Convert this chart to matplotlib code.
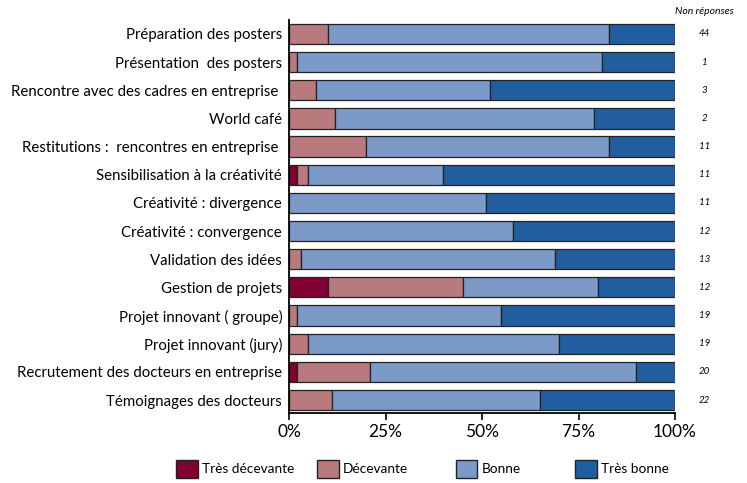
import numpy as np
import matplotlib.pyplot as plt
from matplotlib.patches import Patch

plt.rcParams['font.family'] = ['Lato', 'DejaVu Sans']

categories = [
    "Préparation des posters",
    "Présentation  des posters",
    "Rencontre avec des cadres en entreprise ",
    "World café",
    "Restitutions :  rencontres en entreprise ",
    "Sensibilisation à la créativité",
    "Créativité : divergence",
    "Créativité : convergence",
    "Validation des idées",
    "Gestion de projets",
    "Projet innovant ( groupe)",
    "Projet innovant (jury)",
    "Recrutement des docteurs en entreprise",
    "Témoignages des docteurs",
]
tres_decevante = [0, 0, 0, 0, 0, 2, 0, 0, 0, 10, 0, 0, 2, 0]
decevante = [10, 2, 7, 12, 20, 3, 0, 0, 3, 35, 2, 5, 19, 11]
bonne = [73, 79, 45, 67, 63, 35, 51, 58, 66, 35, 53, 65, 69, 54]
tres_bonne = [17, 19, 48, 21, 17, 60, 49, 42, 31, 20, 45, 30, 10, 35]
non_reponses = [44, 1, 3, 2, 11, 11, 11, 12, 13, 12, 19, 19, 20, 22]

series = [("Très décevante", tres_decevante, "#800030"),
          ("Décevante", decevante, "#B87A7C"),
          ("Bonne", bonne, "#7B9AC7"),
          ("Très bonne", tres_bonne, "#215EA0")]

fig = plt.figure(figsize=(7.47, 4.83), dpi=100)
ax = fig.add_axes([0.387, 0.145, 0.5166, 0.814])

y = np.arange(len(categories))
left = np.zeros(len(categories))
for name, vals, color in series:
    vals = np.array(vals, dtype=float)
    ax.barh(y, vals, left=left, height=0.72, color=color,
            edgecolor="#222222", linewidth=0.9, label=name)
    left += vals

ax.set_ylim(len(categories) - 0.54, -0.5)
ax.set_xlim(0, 100)
ax.set_yticks(y)
ax.set_yticklabels(categories, fontsize=10.8)
ax.tick_params(axis="y", length=0, pad=5)
ax.set_xticks([0, 25, 50, 75, 100])
ax.set_xticklabels(["0%", "25%", "50%", "75%", "100%"], fontsize=12.5)
ax.tick_params(axis="x", length=5, width=1.2, color="black", pad=3)
for s in ["top", "right"]:
    ax.spines[s].set_visible(False)
for s in ["left", "bottom"]:
    ax.spines[s].set_linewidth(1.3)
    ax.spines[s].set_color("black")

# non-response counts to the right of the bars
for i, n in enumerate(non_reponses):
    ax.text(107.7, i, str(n), ha="center", va="center", fontsize=7,
            style="italic", clip_on=False)
ax.text(107.7, -0.79, "Non réponses", ha="center", va="center", fontsize=7.5,
        style="italic", clip_on=False)

# legend entries placed one by one, like in the original
legend_x = [0.236, 0.424, 0.610, 0.770]
for (name, _, color), lx in zip(series, legend_x):
    h = Patch(facecolor=color, edgecolor="#222222", label=name)
    leg = fig.legend(handles=[h], loc="center left", frameon=False,
                     bbox_to_anchor=(lx, 0.029), fontsize=9.8,
                     handlelength=1.6, handleheight=1.6, handletextpad=0.3,
                     borderpad=0, borderaxespad=0)

plt.savefig("out.png", dpi=100)
